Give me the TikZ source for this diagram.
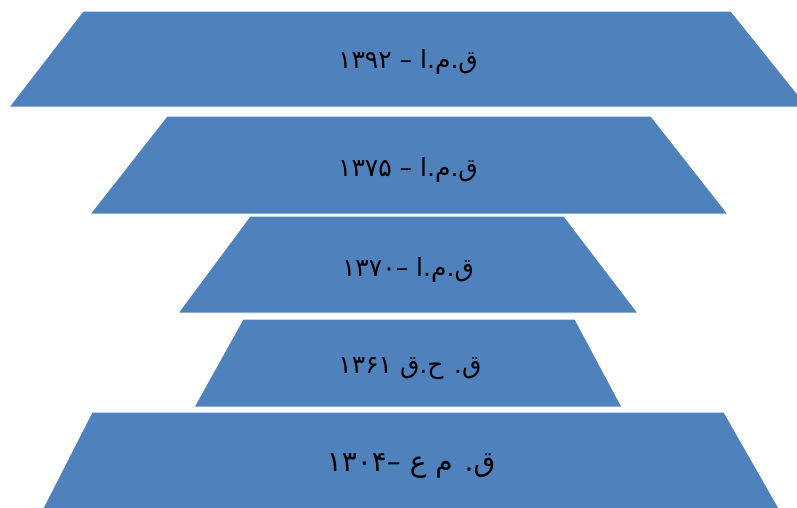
\documentclass[tikz,border=0pt]{standalone}
\usepackage{fontspec}
\newfontfamily\arabicfont[Script=Arabic]{DejaVu Sans}
\TeXXeTstate=1
\definecolor{tierblue}{HTML}{4F81BD}
\tikzset{
  tier/.style={fill=tierblue, draw=white, line width=1pt, line join=miter},
  tierlabel/.style={font=\arabicfont\fontsize{25}{28}\selectfont, text=black, inner sep=0pt, anchor=center},
}
\begin{document}
\begin{tikzpicture}[x=1pt,y=-1pt]
\useasboundingbox (0,0) rectangle (797,507);
% tier 1
\path[tier] (83,11) -- (731,11) -- (808,107) -- (9,107) -- cycle;
\node[tierlabel] (t1) at (408,62) {\beginR ق.م.ا – \beginL ۱۳۹۲\endL\endR};
% tier 2
\path[tier] (167,116) -- (651,116) -- (728,214) -- (90,214) -- cycle;
\node[tierlabel] (t2) at (408,170) {\beginR ق.م.ا – \beginL ۱۳۷۵\endL\endR};
% tier 3
\path[tier] (250,216) -- (564,216) -- (638,313) -- (178,313) -- cycle;
\node[tierlabel] (t3) at (408,270) {\beginR ق.م.ا –\beginL ۱۳۷۰\endL\endR};
% tier 4
\path[tier] (243,319) -- (575,319) -- (622,407) -- (194,407) -- cycle;
\node[tierlabel] (t4) at (410,369) {\beginR ق. ح.ق \beginL ۱۳۶۱\endL\endR};
% tier 5
\path[tier] (92,412) -- (724,412) -- (780,510) -- (42,510) -- cycle;
\node[tierlabel, font=\arabicfont\fontsize{28}{32}\selectfont] (t5) at (411,466) {\beginR ق. م ع –\beginL ۱۳۰۴\endL\endR};
\end{tikzpicture}
\end{document}
